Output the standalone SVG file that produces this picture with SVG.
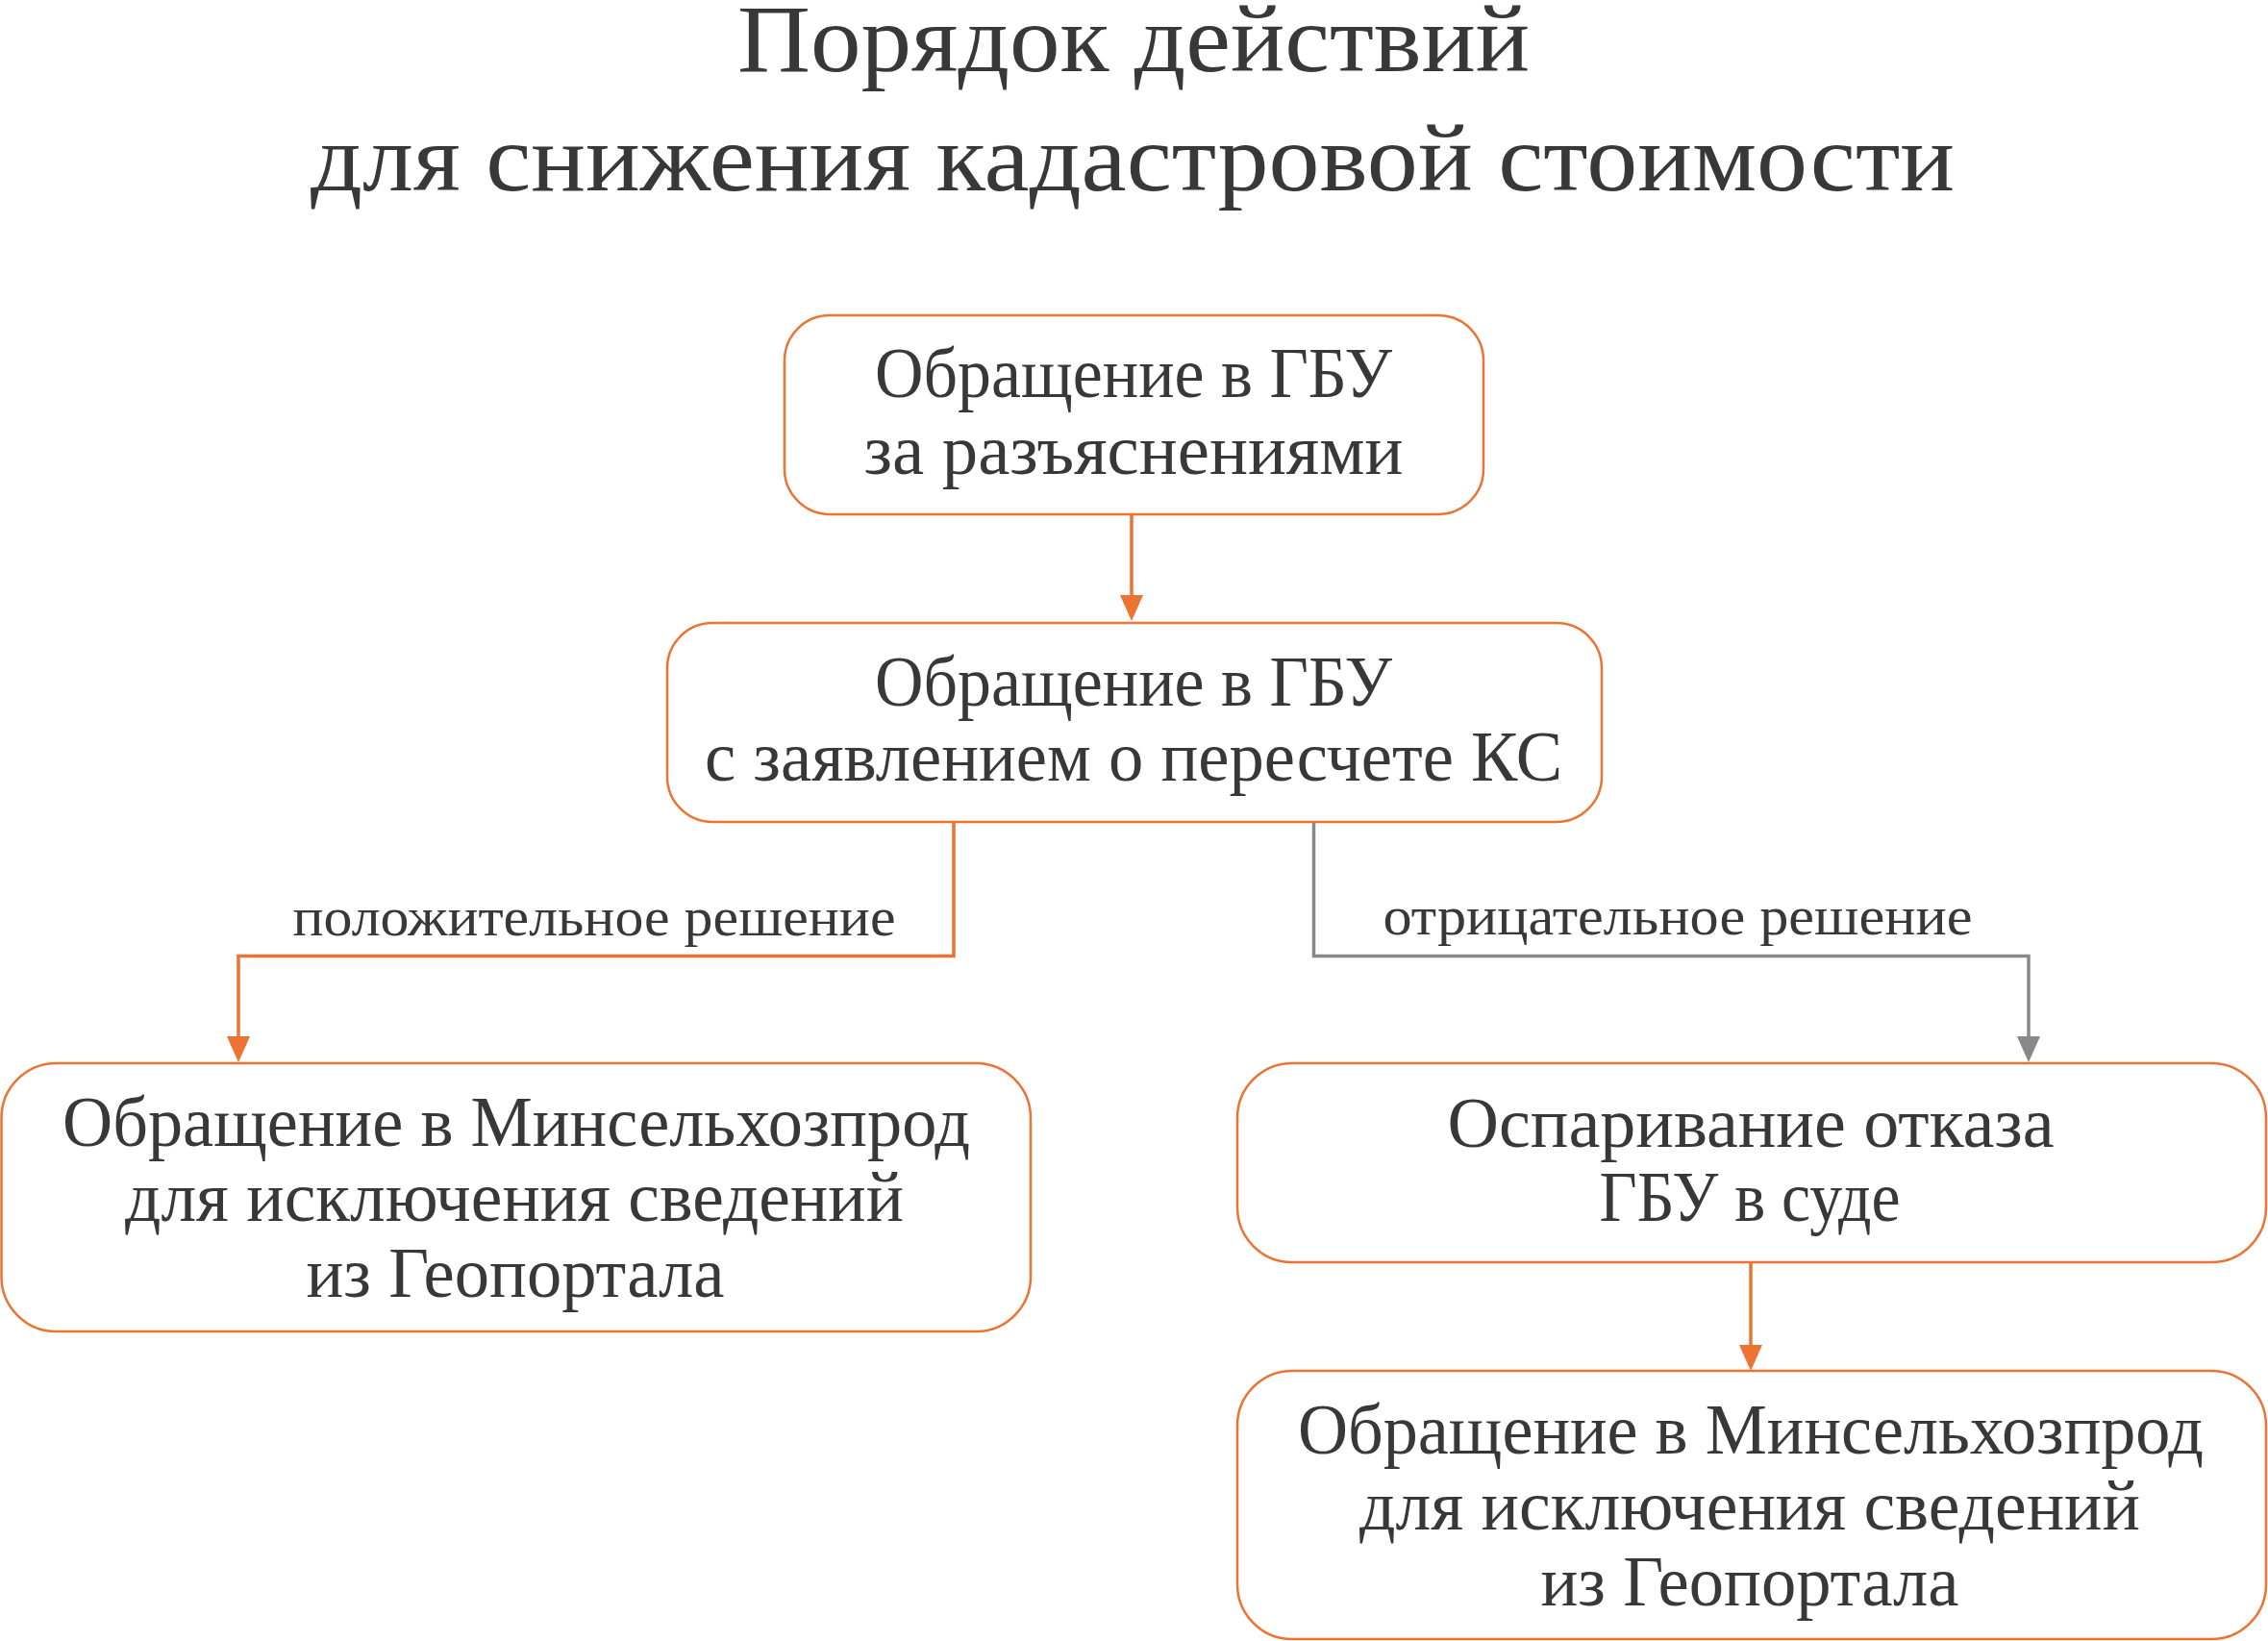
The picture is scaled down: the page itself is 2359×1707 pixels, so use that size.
<svg xmlns="http://www.w3.org/2000/svg" width="2359" height="1707" viewBox="0 0 2359 1707">
<style>
.t{font-family:"Liberation Serif","DejaVu Serif",serif;fill:#383838;text-anchor:middle}
.title{font-size:100px}
.nt{font-size:74px}
.lbl{font-size:58px}
.box{fill:#ffffff;stroke:#EC7332;stroke-width:2.5}
.co{fill:none;stroke:#EC7332;stroke-width:3.5}
.cg{fill:none;stroke:#888888;stroke-width:3.5}
</style>
<defs>
<marker id="ao" markerUnits="userSpaceOnUse" viewBox="0 0 27 24" refX="0" refY="12" markerWidth="27" markerHeight="24" orient="auto">
<path d="M0,0 L27,12 L0,24 z" fill="#EC7332"/>
</marker>
<marker id="ag" markerUnits="userSpaceOnUse" viewBox="0 0 27 24" refX="0" refY="12" markerWidth="27" markerHeight="24" orient="auto">
<path d="M0,0 L27,12 L0,24 z" fill="#888888"/>
</marker>
</defs>
<rect width="2359" height="1707" fill="#ffffff"/>
<g id="title">
<text class="t title" x="1179" y="74" textLength="824" lengthAdjust="spacingAndGlyphs">Порядок действий</text>
<text class="t title" x="1178" y="198" textLength="1710" lengthAdjust="spacingAndGlyphs">для снижения кадастровой стоимости</text>
</g>
<g id="connectors">
<path class="co" d="M1177,535 V619" marker-end="url(#ao)"/>
<path class="co" d="M992,855 V994.5 H248 V1078" marker-end="url(#ao)"/>
<path class="cg" d="M1366.5,855 V994.5 H2110 V1078" marker-end="url(#ag)"/>
<path class="co" d="M1821,1313 V1399" marker-end="url(#ao)"/>
<text class="t lbl" x="618" y="973" textLength="627" lengthAdjust="spacingAndGlyphs">положительное решение</text>
<text class="t lbl" x="1745" y="972" textLength="613" lengthAdjust="spacingAndGlyphs">отрицательное решение</text>
</g>
<g id="n1">
<rect class="box" x="816" y="328" width="727" height="207" rx="47" ry="47"/>
<text class="t nt" x="1179" y="413" textLength="538" lengthAdjust="spacingAndGlyphs">Обращение в ГБУ</text>
<text class="t nt" x="1179" y="493" textLength="561" lengthAdjust="spacingAndGlyphs">за разъяснениями</text>
</g>
<g id="n2">
<rect class="box" x="694" y="648" width="972" height="207" rx="47" ry="47"/>
<text class="t nt" x="1179" y="734" textLength="538" lengthAdjust="spacingAndGlyphs">Обращение в ГБУ</text>
<text class="t nt" x="1179" y="812" textLength="892" lengthAdjust="spacingAndGlyphs">с заявлением о пересчете КС</text>
</g>
<g id="n3">
<rect class="box" x="1.5" y="1106" width="1070.5" height="279" rx="57" ry="57"/>
<text class="t nt" x="537" y="1192" textLength="944" lengthAdjust="spacingAndGlyphs">Обращение в Минсельхозпрод</text>
<text class="t nt" x="535" y="1270" textLength="810" lengthAdjust="spacingAndGlyphs">для исключения сведений</text>
<text class="t nt" x="536" y="1349" textLength="435" lengthAdjust="spacingAndGlyphs">из Геопортала</text>
</g>
<g id="n4">
<rect class="box" x="1287" y="1106" width="1070" height="207" rx="57" ry="57"/>
<text class="t nt" x="1821" y="1193" textLength="631" lengthAdjust="spacingAndGlyphs">Оспаривание отказа</text>
<text class="t nt" x="1820" y="1270" textLength="313" lengthAdjust="spacingAndGlyphs">ГБУ в суде</text>
</g>
<g id="n5">
<rect class="box" x="1287" y="1426" width="1070" height="279" rx="57" ry="57"/>
<text class="t nt" x="1821" y="1512" textLength="942" lengthAdjust="spacingAndGlyphs">Обращение в Минсельхозпрод</text>
<text class="t nt" x="1820" y="1591" textLength="812" lengthAdjust="spacingAndGlyphs">для исключения сведений</text>
<text class="t nt" x="1820" y="1670" textLength="435" lengthAdjust="spacingAndGlyphs">из Геопортала</text>
</g>
</svg>
